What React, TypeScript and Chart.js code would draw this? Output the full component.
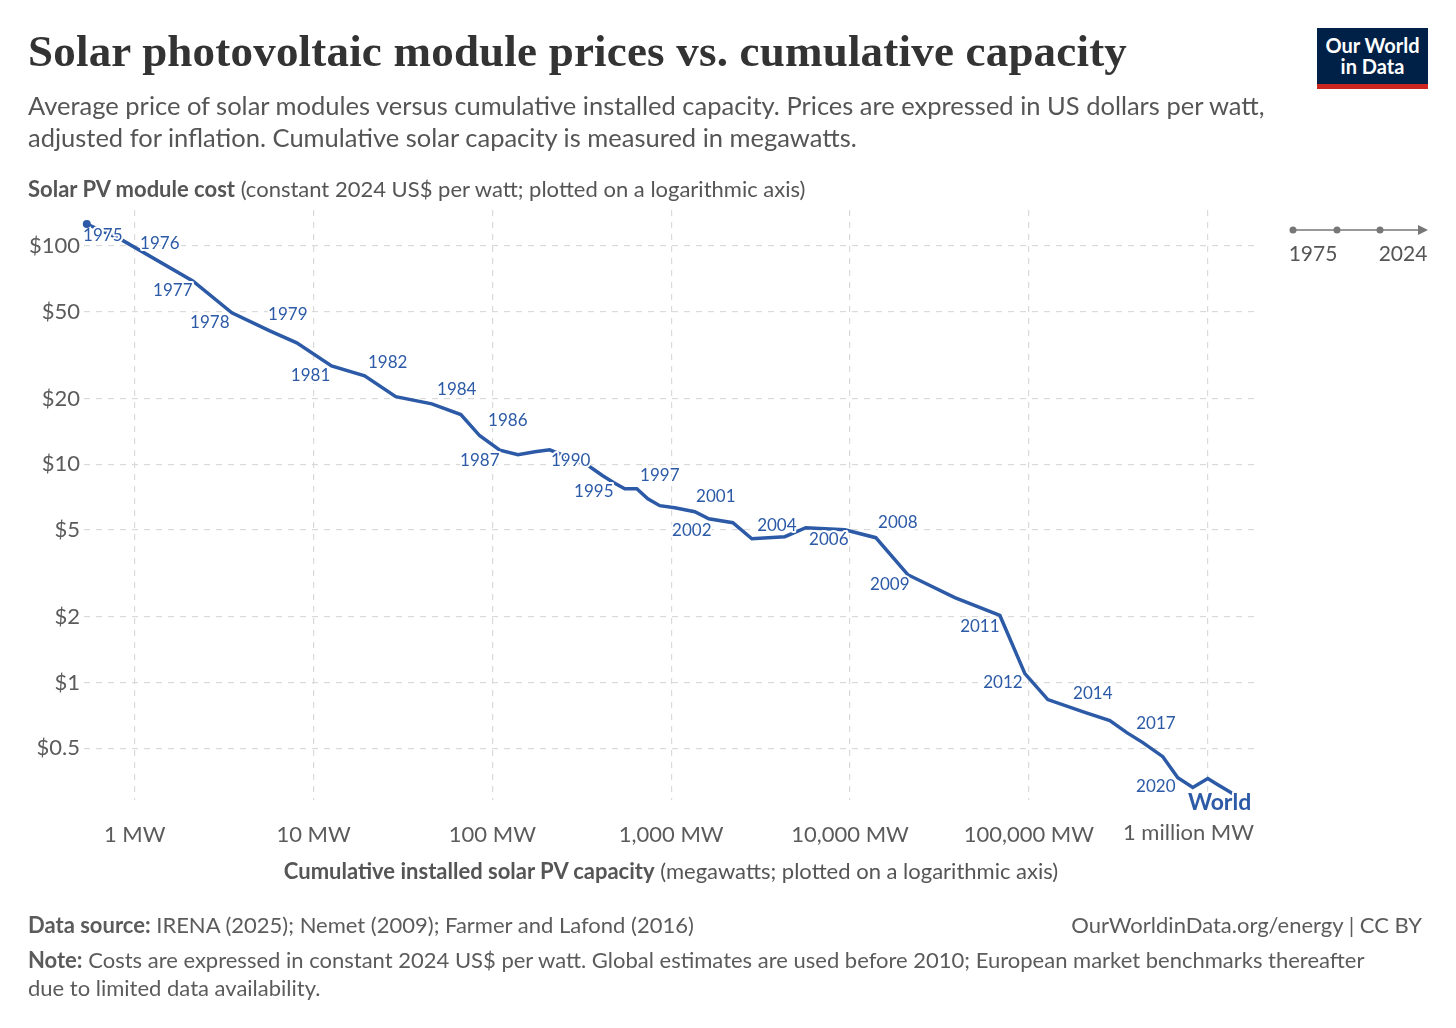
import React, { useEffect, useRef } from "react";
import { Chart, registerables } from "chart.js";
Chart.register(...registerables);

const years = [1975,1976,1977,1978,1979,1980,1981,1982,1983,1984,1985,1986,1987,1988,1989,1990,1991,1992,1993,1994,1995,1996,1997,1998,1999,2000,2001,2002,2003,2004,2005,2006,2007,2008,2009,2010,2011,2012,2013,2014,2015,2016,2017,2018,2019,2020,2021,2022,2023,2024];
const capacityMW = [0.539,0.846,2.11,3.49,5.69,8.05,12.6,19.3,28.8,45.8,66.6,85,110,139,173,209,271,351,414,478,550,642,740,863,1047,1191,1355,1623,2211,2825,4317,5660,9350,13930,21040,38550,68870,95050,127700,205600,283800,353200,434300,561400,681000,826000,1002000,1140000,1265000,1384000];
const priceUSD = [126,106.5,69.1,49.4,40.8,36.0,28.2,25.4,20.4,18.9,16.9,13.5,11.6,11.05,11.4,11.65,10.7,9.74,8.86,8.23,7.73,7.73,6.95,6.46,6.32,6.19,6.06,5.63,5.40,4.56,4.66,5.12,5.01,4.61,3.12,2.45,2.03,1.10,0.836,0.73,0.67,0.59,0.531,0.458,0.367,0.331,0.364,0.341,0.324,0.310];
const yTicks = [0.5,1,2,5,10,20,50,100];
const yTickLabels = ["$0.5","$1","$2","$5","$10","$20","$50","$100"];
const xTicks = [1,10,100,1000,10000,100000,1000000];
const xTickLabels = ["1 MW","10 MW","100 MW","1,000 MW","10,000 MW","100,000 MW","1 million MW"];
// year labels with offsets (dx, dy) from the point
const yearLabels: [number, number, number][] = [
  [1975,16,12],[1976,38,4],[1977,-20,10],[1978,-22,10],[1979,18,-16],[1981,-21,10],[1982,23,-13],
  [1984,25,-14],[1986,28,-15],[1987,-20,10],[1990,21,11],[1995,-31,3],[1997,12,-23],[2001,21,-15],
  [2002,-17,12],[2004,25,-13],[2006,23,12],[2008,22,-15],[2009,-18,10],[2011,-20,11],[2012,-22,9],
  [2014,8,-19],[2017,13,-19],[2020,-37,-1],
];
const BLUE = "#2c5aa6";
const FONT = "Lato, 'Noto Sans', sans-serif";

const labelPlugin = {
  id: "yearLabels",
  afterDatasetsDraw(chart: any) {
    const ctx = chart.ctx;
    const xs = chart.scales.x, ys = chart.scales.y;
    ctx.save();
    // last x tick label, kept inside the plot's right edge
    ctx.font = `22px ${FONT}`;
    ctx.fillStyle = "#5b5b5b";
    ctx.textAlign = "right";
    ctx.textBaseline = "top";
    ctx.fillText(xTickLabels[xTicks.length - 1], chart.chartArea.right - 1, chart.chartArea.bottom + 22);

    ctx.textAlign = "center";
    ctx.textBaseline = "middle";
    ctx.font = `17px ${FONT}`;
    ctx.lineJoin = "round";
    for (const [yr, dx, dy] of yearLabels) {
      const i = years.indexOf(yr);
      const px = xs.getPixelForValue(capacityMW[i]) + dx;
      const py = ys.getPixelForValue(priceUSD[i]) + dy;
      ctx.strokeStyle = "white";
      ctx.lineWidth = 4;
      ctx.strokeText(String(yr), px, py);
      ctx.fillStyle = BLUE;
      ctx.fillText(String(yr), px, py);
    }
    const n = years.length - 1;
    ctx.font = `bold 23px ${FONT}`;
    ctx.textAlign = "left";
    const px = xs.getPixelForValue(capacityMW[n]) - 45;
    const py = ys.getPixelForValue(priceUSD[n]) + 9;
    ctx.strokeText("World", px, py);
    ctx.fillStyle = BLUE;
    ctx.fillText("World", px, py);
    ctx.beginPath();
    ctx.arc(xs.getPixelForValue(capacityMW[0]), ys.getPixelForValue(priceUSD[0]), 4, 0, Math.PI * 2);
    ctx.fillStyle = BLUE;
    ctx.fill();
    ctx.restore();
  },
};

export default function App() {
  const ref = useRef<HTMLCanvasElement>(null);
  useEffect(() => {
    const chart = new Chart(ref.current!, {
      type: "line",
      data: {
        datasets: [{
          data: capacityMW.map((c, i) => ({ x: c, y: priceUSD[i] })),
          borderColor: BLUE, borderWidth: 3.5, pointRadius: 0, tension: 0,
        }],
      },
      options: {
        animation: false, responsive: false,
        layout: { padding: { top: 210, bottom: 178, right: 201, left: 0 } },
        plugins: { legend: { display: false }, tooltip: { enabled: false } },
        scales: {
          x: {
            type: "logarithmic", min: 0.52, max: 1840000,
            afterFit: (s: any) => { s.height = 50; },
            afterBuildTicks: (s: any) => { s.ticks = xTicks.map((v) => ({ value: v })); },
            ticks: {
              autoSkip: false, maxRotation: 0, padding: 22, color: "#5b5b5b",
              font: { family: FONT, size: 22 },
              callback: (v: any) => {
                const i = xTicks.indexOf(Number(v));
                return i === xTicks.length - 1 ? "" : (xTickLabels[i] ?? "");
              },
            },
            grid: { color: "#dadada", lineWidth: 1.2, drawTicks: false },
            border: { display: false, dash: [6, 6] },
          },
          y: {
            type: "logarithmic", min: 0.29, max: 146,
            afterFit: (s: any) => { s.width = 84; },
            afterBuildTicks: (s: any) => { s.ticks = yTicks.map((v) => ({ value: v })); },
            ticks: {
              autoSkip: false, padding: 4, color: "#5b5b5b",
              font: { family: FONT, size: 22 },
              callback: (v: any) => yTickLabels[yTicks.indexOf(Number(v))] ?? "",
            },
            grid: { color: "#dadada", lineWidth: 1.2, drawTicks: false },
            border: { display: false, dash: [6, 6] },
          },
        },
      },
      plugins: [labelPlugin],
    } as any);
    return () => chart.destroy();
  }, []);

  const txt: React.CSSProperties = { position: "absolute", fontFamily: FONT, color: "#5b5b5b", margin: 0, whiteSpace: "nowrap" };
  return (
    <div style={{ position: "absolute", left: 0, top: 0, width: 1456, height: 1028, background: "white", overflow: "hidden" }}>
      <canvas ref={ref} width={1456} height={1028} style={{ position: "absolute", left: 0, top: 0 }} />
      <div style={{ ...txt, left: 28, top: 25, fontFamily: "'Liberation Serif', 'DejaVu Serif', serif", fontWeight: 700, fontSize: 45, color: "#333", letterSpacing: 0.2 }}>
        Solar photovoltaic module prices vs. cumulative capacity
      </div>
      <div style={{ ...txt, left: 28, top: 89, fontSize: 25.5, lineHeight: "32px", color: "#555", whiteSpace: "normal", width: 1270 }}>
        Average price of solar modules versus cumulative installed capacity. Prices are expressed in US dollars per watt, adjusted for inflation. Cumulative solar capacity is measured in megawatts.
      </div>
      <div style={{ ...txt, left: 28, top: 175, fontSize: 22, color: "#555" }}>
        <b>Solar PV module cost</b> (constant 2024 US$ per watt; plotted on a logarithmic axis)
      </div>
      <div style={{ ...txt, left: 0, width: 1342, textAlign: "center", top: 857, fontSize: 22, color: "#555" }}>
        <b>Cumulative installed solar PV capacity</b> (megawatts; plotted on a logarithmic axis)
      </div>
      <div style={{ position: "absolute", left: 1317, top: 28, width: 111, height: 61, background: "#002147", borderBottom: "5px solid #ce261e", boxSizing: "border-box", color: "white", fontFamily: FONT, fontWeight: 700, fontSize: 20, lineHeight: "21px", textAlign: "center", paddingTop: 7 }}>
        Our World<br />in Data
      </div>
      <svg style={{ position: "absolute", left: 1280, top: 215 }} width={160} height={60}>
        <line x1={13} y1={15} x2={140} y2={15} stroke="#777" strokeWidth={1.5} />
        <polygon points="148,15 138,10 138,20" fill="#777" />
        <circle cx={13} cy={15} r={3.5} fill="#777" />
        <circle cx={57} cy={15} r={3.5} fill="#777" />
        <circle cx={100} cy={15} r={3.5} fill="#777" />
        <text x={33} y={46} fontFamily={FONT} fontSize={21} fill="#555" textAnchor="middle">1975</text>
        <text x={123} y={46} fontFamily={FONT} fontSize={21} fill="#555" textAnchor="middle">2024</text>
      </svg>
      <div style={{ ...txt, left: 28, top: 911, fontSize: 22 }}>
        <b>Data source:</b> IRENA (2025); Nemet (2009); Farmer and Lafond (2016)
      </div>
      <div style={{ ...txt, right: 34, top: 911, fontSize: 22 }}>OurWorldinData.org/energy | CC BY</div>
      <div style={{ ...txt, left: 28, top: 946, fontSize: 22, lineHeight: "28px", whiteSpace: "normal", width: 1360 }}>
        <b>Note:</b> Costs are expressed in constant 2024 US$ per watt. Global estimates are used before 2010; European market benchmarks thereafter due to limited data availability.
      </div>
    </div>
  );
}
